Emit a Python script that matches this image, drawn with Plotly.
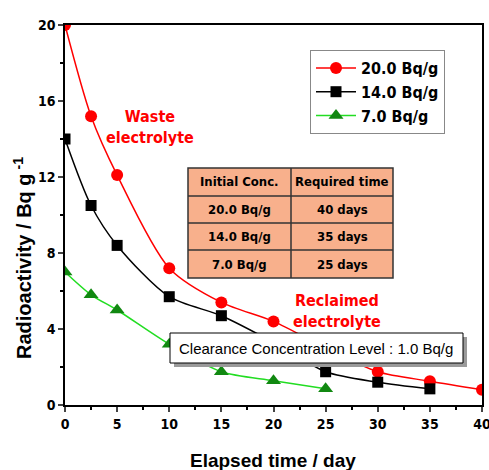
import plotly.graph_objects as go

days_20 = [0, 2.5, 5, 10, 15, 20, 25, 30, 35, 40]
act_20 = [20.0, 15.2, 12.1, 7.2, 5.4, 4.4, 3.0, 1.75, 1.25, 0.8]
days_14 = [0, 2.5, 5, 10, 15, 20, 25, 30, 35]
act_14 = [14.0, 10.5, 8.4, 5.7, 4.7, 3.3, 1.75, 1.2, 0.85]
days_7 = [0, 2.5, 5, 10, 15, 20, 25]
act_7 = [7.0, 5.8, 5.0, 3.2, 1.75, 1.28, 0.85]

table_header = ["Initial Conc.", "Required time"]
table_conc = ["20.0 Bq/g", "14.0 Bq/g", "7.0 Bq/g"]
table_time = ["40 days", "35 days", "25 days"]

narrow = "DejaVu Sans Condensed, Liberation Sans Narrow, sans-serif"
wide = "Liberation Sans, Arial, sans-serif"

# plot area in pixels
L, R, T, B = 65, 482, 25, 405


def px(xp):
    return (xp - L) / (R - L)


def py(yp):
    return (B - yp) / (B - T)


def label(fig, xp, yp, text, font, **kw):
    fig.add_annotation(x=px(xp), y=py(yp), xref="paper", yref="paper", showarrow=False,
                       xanchor="center", yanchor="middle", text=text, font=font, **kw)


fig = go.Figure()
fig.add_trace(go.Scatter(x=days_20, y=act_20, name="20.0 Bq/g", mode="lines+markers",
                         line=dict(color="#ff0000", width=1.5, shape="spline", smoothing=0.8),
                         marker=dict(symbol="circle", size=12, color="#ff0000")))
fig.add_trace(go.Scatter(x=days_14, y=act_14, name="14.0 Bq/g", mode="lines+markers",
                         line=dict(color="#000000", width=1.5, shape="spline", smoothing=0.8),
                         marker=dict(symbol="square", size=11, color="#000000")))
fig.add_trace(go.Scatter(x=days_7, y=act_7, name="7.0 Bq/g", mode="lines+markers",
                         line=dict(color="#22dd22", width=1.5, shape="spline", smoothing=0.8),
                         marker=dict(symbol="triangle-up", size=13, color="#118811")))

# table built from shapes + annotations
tx0, tx1, tmid = 188, 393, 291
row_edges = [168, 196, 223, 250, 278]
fig.add_shape(type="rect", xref="paper", yref="paper", x0=px(tx0), x1=px(tx1),
              y0=py(row_edges[-1]), y1=py(row_edges[0]), fillcolor="#f8b08c",
              line=dict(color="#333333", width=1.5), layer="above")
fig.add_shape(type="line", xref="paper", yref="paper", x0=px(tmid), x1=px(tmid),
              y0=py(row_edges[-1]), y1=py(row_edges[0]),
              line=dict(color="#333333", width=1.5), layer="above")
for e in row_edges[1:-1]:
    fig.add_shape(type="line", xref="paper", yref="paper", x0=px(tx0), x1=px(tx1),
                  y0=py(e), y1=py(e), line=dict(color="#333333", width=1.5), layer="above")
rows = [table_header] + [[c, t] for c, t in zip(table_conc, table_time)]
tfont = dict(family=narrow, size=13, color="black", weight="bold")
for i, row in enumerate(rows):
    yc = (row_edges[i] + row_edges[i + 1]) / 2
    for j, txt in enumerate(row):
        xc = (tx0 + tmid) / 2 if j == 0 else (tmid + tx1) / 2
        label(fig, xc, yc, txt, tfont)

# clearance box shadow + box
fig.add_shape(type="rect", xref="paper", yref="paper", x0=px(174), x1=px(467),
              y0=py(367), y1=py(337), fillcolor="#9a9a9a", line=dict(width=0), layer="above")
fig.add_shape(type="rect", xref="paper", yref="paper", x0=px(170), x1=px(463),
              y0=py(363), y1=py(333), fillcolor="white",
              line=dict(color="black", width=1), layer="above")
label(fig, 316, 348, "Clearance Concentration Level : 1.0 Bq/g",
      dict(family=wide, size=15, color="black"))

label(fig, 150, 127, "<b>Waste<br>electrolyte</b>",
      dict(family=narrow, size=16, color="#ff0000"))
label(fig, 337, 311, "<b>Reclaimed<br>electrolyte</b>",
      dict(family=narrow, size=16, color="#ff0000"))

# axis titles
label(fig, 22, 258, "<b>Radioactivity / Bq g<sup> -1</sup></b>",
      dict(family=wide, size=20, color="black"), textangle=-90)
label(fig, 273, 460, "<b>Elapsed time / day</b>",
      dict(family=wide, size=19, color="black"))

tick_font = dict(family=narrow, size=14, color="black", weight="bold")
fig.update_xaxes(range=[0, 40], tickvals=[0, 5, 10, 15, 20, 25, 30, 35, 40], automargin=False,
                 ticks="outside", ticklen=5, tickwidth=1.5, showline=True, linecolor="black",
                 linewidth=1.5, mirror=True, showgrid=False, zeroline=False,
                 ticklabeloverflow="allow",
                 minor=dict(dtick=2.5, ticks="outside", ticklen=3, tickcolor="black"),
                 tickfont=tick_font)
fig.update_yaxes(range=[0, 20], tickvals=[0, 4, 8, 12, 16, 20], automargin=False,
                 ticks="outside", ticklen=5, tickwidth=1.5, showline=True, linecolor="black",
                 linewidth=1.5, mirror=True, showgrid=False, zeroline=False,
                 ticklabeloverflow="allow",
                 minor=dict(dtick=2, ticks="outside", ticklen=3, tickcolor="black"),
                 tickfont=tick_font)

fig.update_layout(
    width=489, height=470,
    margin=dict(l=L, r=489 - R, t=T, b=470 - B, autoexpand=False),
    plot_bgcolor="white", paper_bgcolor="white",
    showlegend=True,
    legend=dict(x=px(310), y=py(50), xanchor="left", yanchor="top",
                bordercolor="#888888", borderwidth=1, bgcolor="white",
                font=dict(family=narrow, size=16, color="black", weight="bold"),
                tracegroupgap=0, itemwidth=40),
)

fig.write_html("out.html", post_script="document.body.style.margin='0px';",
               config={"displayModeBar": False})
